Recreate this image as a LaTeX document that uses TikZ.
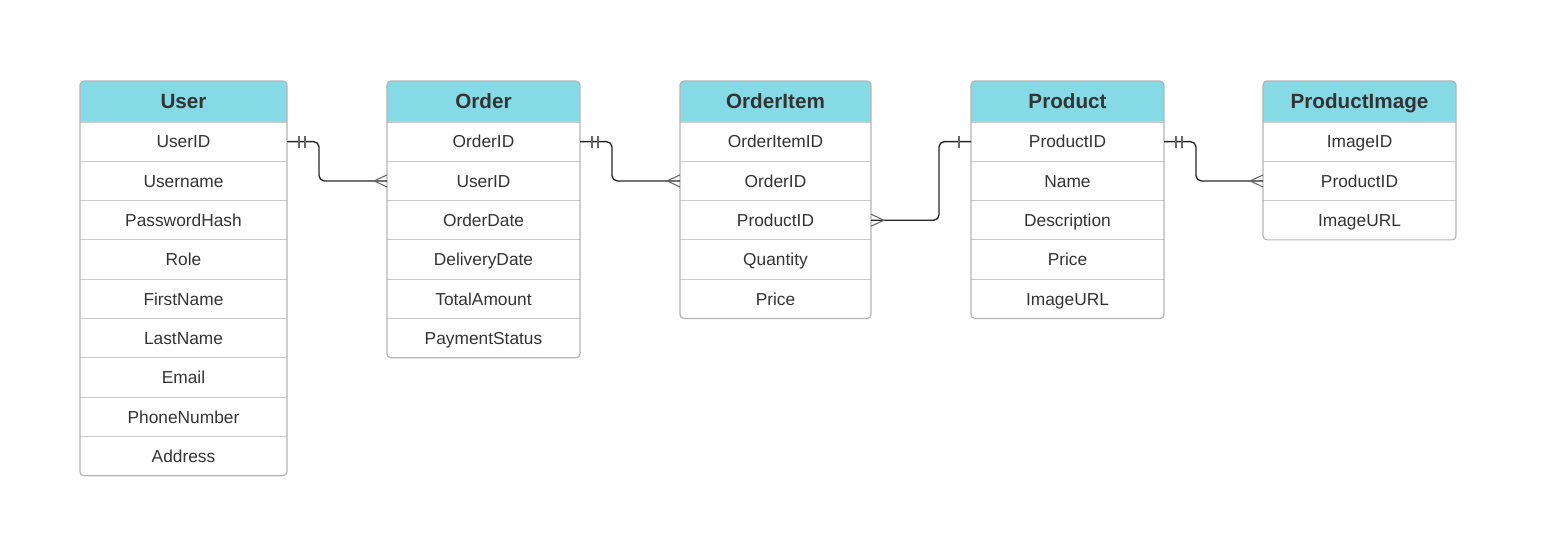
\documentclass[tikz,border=0pt]{standalone}
\usepackage{fontspec}
\setmainfont{Liberation Sans}
\usetikzlibrary{backgrounds}
\definecolor{erhead}{HTML}{85DAE6}
\definecolor{ertext}{HTML}{333333}
\definecolor{erframe}{HTML}{B4B4B4}
\definecolor{errule}{HTML}{CACACA}
\tikzset{
  ertitle/.style={inner sep=0pt,outer sep=0pt,anchor=north west,minimum height=30.75pt,
    text height=13.8pt,text depth=3pt,font=\fontsize{15.5}{18}\selectfont\bfseries,text=ertext},
  erfield/.style={inner sep=0pt,outer sep=0pt,anchor=north west,minimum height=29.475pt,
    text height=12pt,text depth=2.6pt,font=\fontsize{13}{15}\selectfont,text=ertext},
  erbox/.style={draw=erframe,line width=0.9pt,rounded corners=3pt},
  errow/.style={draw=errule,line width=0.9pt},
  erlink/.style={draw=black!85,line width=1pt,rounded corners=4pt},
  ermark/.style={draw=black!60,line width=0.8pt},
  onemark/.pic={\draw[ermark] (12,-6) -- (12,6);},
  onlyone/.pic={\draw[ermark] (12,-6) -- (12,6) (18,-6) -- (18,6);},
  crowfoot/.pic={\draw[ermark] (0,-6) -- (-13,0) -- (0,6);}
}

\begin{document}
\begin{tikzpicture}[x=0.75pt,y=-0.75pt]
  \useasboundingbox (0,0) rectangle (1541,552);

  % User
  \node[ertitle,minimum width=155.25pt] (user) at (80,81) {User};
  \foreach \f [count=\i] in {UserID,Username,PasswordHash,Role,FirstName,LastName,Email,PhoneNumber,Address}{
    \node[erfield,minimum width=155.25pt] (user-\i) at (80,{122+39.3*(\i-1)}) {\f};
    \draw[errow] (user-\i.north west) -- (user-\i.north east);
  }
  \begin{pgfonlayer}{background}
    \begin{scope}
      \clip[rounded corners=3pt] (user.north west) rectangle (user-9.south east);
      \fill[erhead] (user.north west) rectangle (user.south east);
    \end{scope}
  \end{pgfonlayer}
  \draw[erbox] (user.north west) rectangle (user-9.south east);

  % Order
  \node[ertitle,minimum width=144.75pt] (order) at (387,81) {Order};
  \foreach \f [count=\i] in {OrderID,UserID,OrderDate,DeliveryDate,TotalAmount,PaymentStatus}{
    \node[erfield,minimum width=144.75pt] (order-\i) at (387,{122+39.3*(\i-1)}) {\f};
    \draw[errow] (order-\i.north west) -- (order-\i.north east);
  }
  \begin{pgfonlayer}{background}
    \begin{scope}
      \clip[rounded corners=3pt] (order.north west) rectangle (order-6.south east);
      \fill[erhead] (order.north west) rectangle (order.south east);
    \end{scope}
  \end{pgfonlayer}
  \draw[erbox] (order.north west) rectangle (order-6.south east);

  % OrderItem
  \node[ertitle,minimum width=143.25pt] (orderitem) at (680,81) {OrderItem};
  \foreach \f [count=\i] in {OrderItemID,OrderID,ProductID,Quantity,Price}{
    \node[erfield,minimum width=143.25pt] (orderitem-\i) at (680,{122+39.3*(\i-1)}) {\f};
    \draw[errow] (orderitem-\i.north west) -- (orderitem-\i.north east);
  }
  \begin{pgfonlayer}{background}
    \begin{scope}
      \clip[rounded corners=3pt] (orderitem.north west) rectangle (orderitem-5.south east);
      \fill[erhead] (orderitem.north west) rectangle (orderitem.south east);
    \end{scope}
  \end{pgfonlayer}
  \draw[erbox] (orderitem.north west) rectangle (orderitem-5.south east);

  % Product
  \node[ertitle,minimum width=144.75pt] (product) at (971,81) {Product};
  \foreach \f [count=\i] in {ProductID,Name,Description,Price,ImageURL}{
    \node[erfield,minimum width=144.75pt] (product-\i) at (971,{122+39.3*(\i-1)}) {\f};
    \draw[errow] (product-\i.north west) -- (product-\i.north east);
  }
  \begin{pgfonlayer}{background}
    \begin{scope}
      \clip[rounded corners=3pt] (product.north west) rectangle (product-5.south east);
      \fill[erhead] (product.north west) rectangle (product.south east);
    \end{scope}
  \end{pgfonlayer}
  \draw[erbox] (product.north west) rectangle (product-5.south east);

  % ProductImage
  \node[ertitle,minimum width=144.75pt] (productimage) at (1263,81) {ProductImage};
  \foreach \f [count=\i] in {ImageID,ProductID,ImageURL}{
    \node[erfield,minimum width=144.75pt] (productimage-\i) at (1263,{122+39.3*(\i-1)}) {\f};
    \draw[errow] (productimage-\i.north west) -- (productimage-\i.north east);
  }
  \begin{pgfonlayer}{background}
    \begin{scope}
      \clip[rounded corners=3pt] (productimage.north west) rectangle (productimage-3.south east);
      \fill[erhead] (productimage.north west) rectangle (productimage.south east);
    \end{scope}
  \end{pgfonlayer}
  \draw[erbox] (productimage.north west) rectangle (productimage-3.south east);

  % relations
  \draw[erlink] (user-1.east) -- ++(32,0) |- (order-2.west);
  \pic at (user-1.east) {onlyone};
  \pic at (order-2.west) {crowfoot};

  \draw[erlink] (order-1.east) -- ++(32,0) |- (orderitem-2.west);
  \pic at (order-1.east) {onlyone};
  \pic at (orderitem-2.west) {crowfoot};

  \draw[erlink] (orderitem-3.east) -- ++(68,0) |- (product-1.west);
  \pic[xscale=-1] at (orderitem-3.east) {crowfoot};
  \pic[xscale=-1] at (product-1.west) {onemark};

  \draw[erlink] (product-1.east) -- ++(32,0) |- (productimage-2.west);
  \pic at (product-1.east) {onlyone};
  \pic at (productimage-2.west) {crowfoot};
\end{tikzpicture}
\end{document}
